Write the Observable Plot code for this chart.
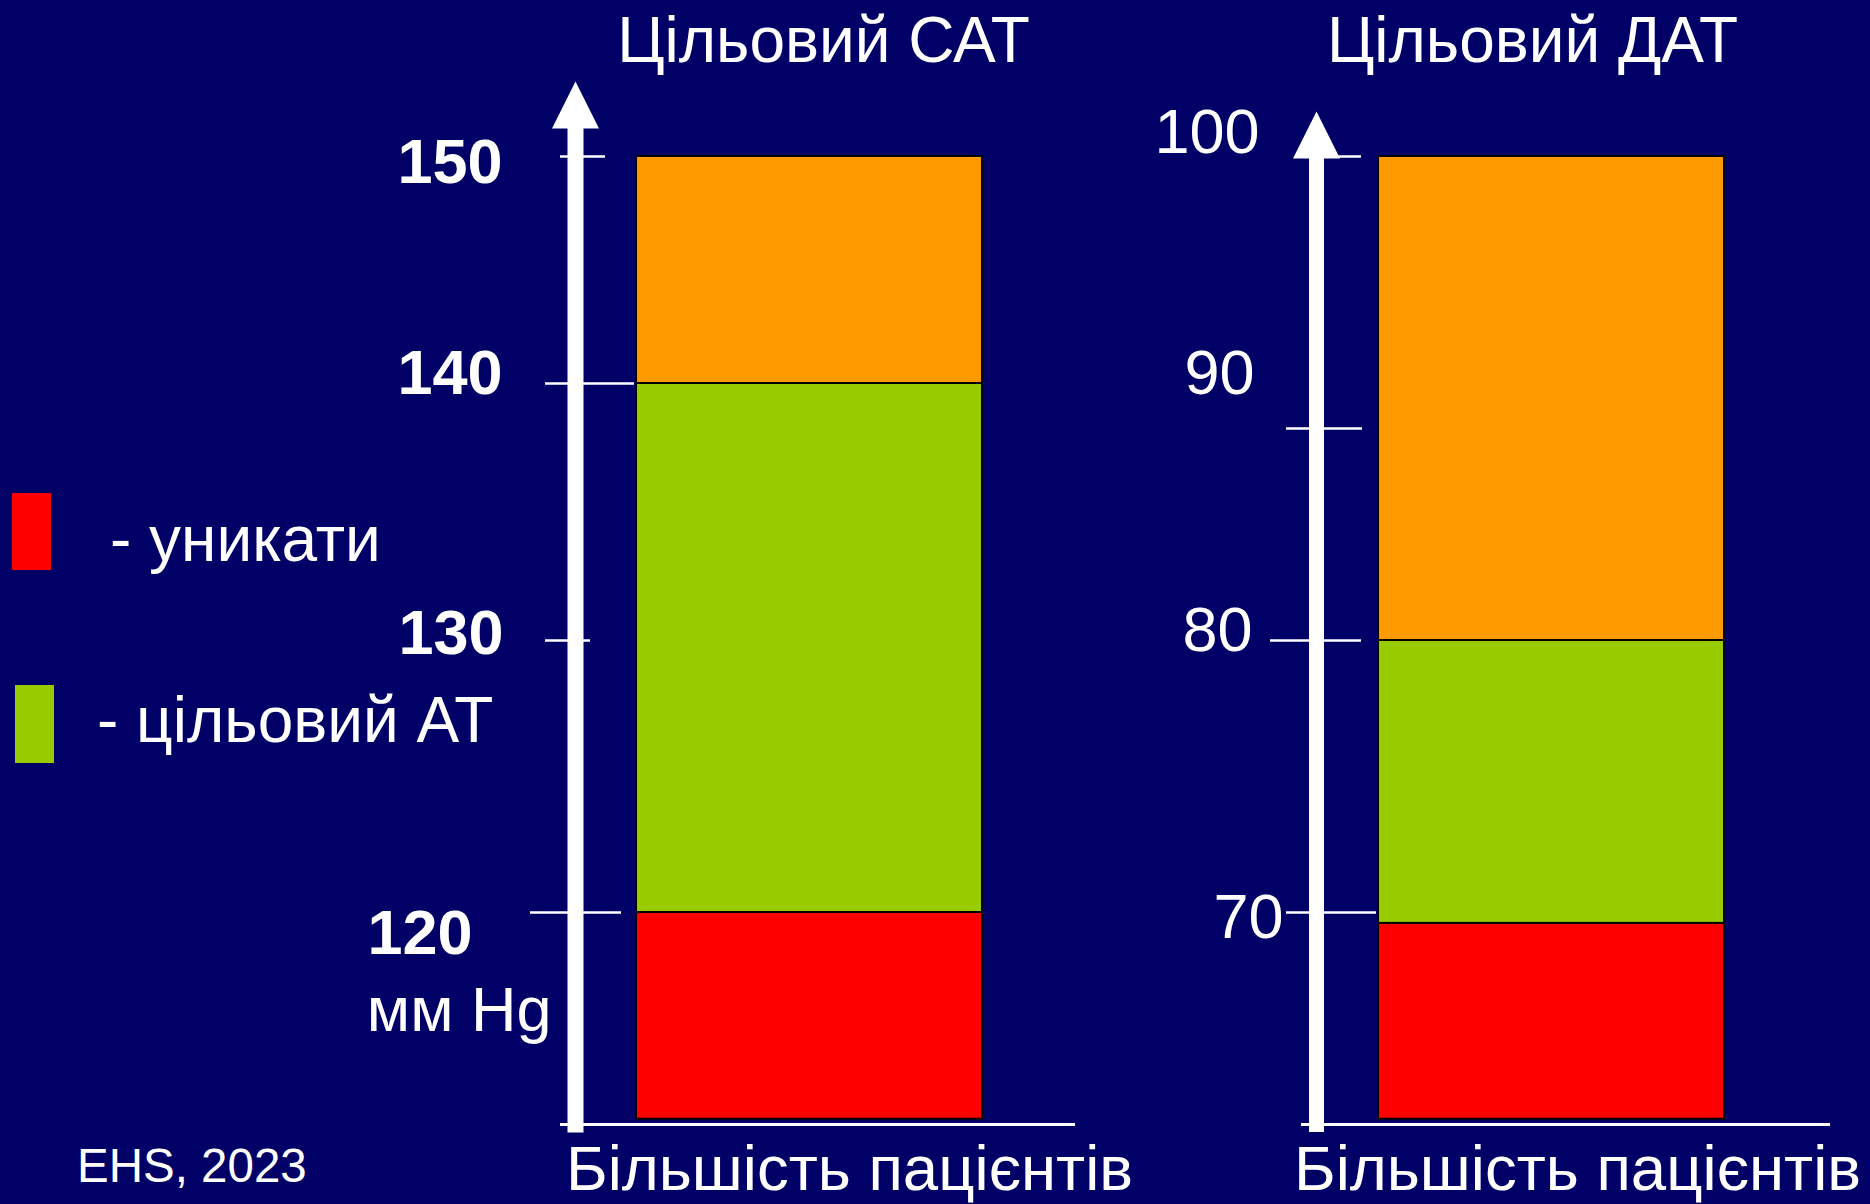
<!DOCTYPE html>
<html lang="uk">
<head>
<meta charset="utf-8">
<script src="https://cdn.jsdelivr.net/npm/d3@7"></script>
<script src="https://cdn.jsdelivr.net/npm/@observablehq/plot@0.6"></script>
<style>
  html, body { margin: 0; padding: 0; background: #000066; }
  #stage { position: relative; width: 1870px; height: 1204px; background: #000066; overflow: hidden;
           font-family: "Liberation Sans", Arial, sans-serif; color: #fff; }
  #stage svg { position: absolute; left: 0; top: 0; }
  .abs { position: absolute; white-space: nowrap; line-height: 1; }
</style>
</head>
<body>
<div id="stage"></div>
<script>
// ---------------- data ----------------
const category = "Більшість пацієнтів";
const zoneKeys = ["avoid", "target", "above"];
const zoneColors = ["#ff0000", "#99cc00", "#ff9900"];
const legendLabels = ["- уникати", "- цільовий АТ"];

const sbpTitle = "Цільовий САТ";
const dbpTitle = "Цільовий ДАТ";
const unitLabel = "мм Hg";
const sourceNote = "EHS, 2023";

// zone edges in mm Hg, from the bottom of the bar upward
const sbpEdges = [112.4, 120, 140, 150];
const dbpEdges = [62.4, 69.6, 80, 100];

const sbpTicks = [150, 140, 130, 120];
const sbpTickLabels = ["150", "140", "130", "120"];
const dbpTicks = [100, 90, 80, 70];
const dbpTickLabels = ["100", "90", "80", "70"];

// ---------------- layout / style ----------------
const W = 1870, H = 1204, FLOOR = 1124;
const FONT = "Liberation Sans, Arial, sans-serif";

const arrowHead = {
  draw(ctx, size) {
    const r = Math.sqrt(size / Math.PI);
    ctx.moveTo(0, -2 * r);
    ctx.lineTo(r, 0);
    ctx.lineTo(-r, 0);
    ctx.closePath();
  }
};

const panels = [
  {
    title: sbpTitle, edges: sbpEdges, ticks: sbpTicks, labels: sbpTickLabels, bold: true, unit: true,
    yDomain: [120, 130, 140, 150], yRange: [912, 640, 383, 156],
    axisX: 575, right: 1073, top: 128, shaft: 16, bandOuter: 0.2176, align: 0.404,
    tickExt: [[15, 30], [30, 59], [30, 15], [45, 46]],
    labelNudge: [[-73, 6.8], [-73, -9.2], [-72, -6.2], [-103, 21.8]],
    titleDx: -1, xLabelDx: 40
  },
  {
    title: dbpTitle, edges: dbpEdges, ticks: dbpTicks, labels: dbpTickLabels, bold: false, unit: false,
    yDomain: [70, 80, 90, 100], yRange: [912, 640, 428, 156],
    axisX: 1316, right: 1828, top: 158, shaft: 15, bandOuter: 0.2388, align: 0.372,
    tickExt: [[0, 45], [30, 46], [46, 45], [30, 60]],
    labelNudge: [[-57, -23.5], [-62, -54.2], [-64, -9.2], [-33, 5.8]],
    titleDx: -40, xLabelDx: 26
  }
];

function panel(p) {
  const segs = zoneKeys.map((z, i) => ({zone: z, cat: category, lo: p.edges[i], hi: p.edges[i + 1]}));
  const fw = p.right - p.axisX;
  const marks = [
    Plot.barY(segs, {x: "cat", y1: "lo", y2: "hi", fill: "zone", stroke: "#000", strokeWidth: 2}),
    Plot.frame({anchor: "bottom", stroke: "#fff", strokeWidth: 3, insetLeft: -14}),
    Plot.frame({anchor: "left", stroke: "#fff", strokeWidth: p.shaft}),
    Plot.dot([0], {frameAnchor: "top-left", symbol: arrowHead, r: 23.5, fill: "#fff", stroke: "none"}),
    ...p.ticks.map((t, i) => Plot.ruleY([t], {
      y: d => d, stroke: "#fff", strokeWidth: 2.5,
      insetLeft: -p.tickExt[i][0], insetRight: fw - p.tickExt[i][1]
    })),
    ...p.ticks.map((t, i) => Plot.text([p.labels[i]], {
      y: () => t, text: d => d, frameAnchor: "left", textAnchor: "end", lineAnchor: "middle",
      dx: p.labelNudge[i][0], dy: p.labelNudge[i][1],
      fontSize: 63, fontWeight: p.bold ? "bold" : "normal", fill: "#fff", fontFamily: FONT
    })),
    Plot.text([p.title], {
      text: d => d, frameAnchor: "top", lineAnchor: "middle", dx: p.titleDx, dy: 41.5 - p.top,
      fontSize: 64, fill: "#fff", fontFamily: FONT
    }),
    Plot.text([category], {
      x: d => d, text: d => d, frameAnchor: "bottom", lineAnchor: "middle", dx: p.xLabelDx, dy: 45,
      fontSize: 63.5, fill: "#fff", fontFamily: FONT
    })
  ];
  if (p.unit) {
    marks.push(Plot.text([unitLabel], {
      text: d => d, frameAnchor: "bottom-left", textAnchor: "end", lineAnchor: "middle",
      dx: -24, dy: 1010.8 - FLOOR, fontSize: 63, fill: "#fff", fontFamily: FONT
    }));
  }
  return Plot.plot({
    width: W, height: H,
    marginLeft: p.axisX, marginRight: W - p.right, marginTop: p.top, marginBottom: H - FLOOR,
    style: {background: "transparent", fontFamily: FONT, overflow: "visible", maxWidth: "none"},
    x: {type: "band", domain: [category], paddingInner: 0, paddingOuter: p.bandOuter, align: p.align, axis: null},
    y: {type: "linear", domain: p.yDomain, range: p.yRange, axis: null},
    color: {domain: zoneKeys, range: zoneColors},
    marks
  });
}

const stage = document.getElementById("stage");
panels.forEach(p => stage.appendChild(panel(p)));

// legend (HTML, beside the chart)
const legendBoxes = [
  {left: 12, top: 493, w: 39, h: 77},
  {left: 15, top: 685, w: 39, h: 78}
];
const legendText = [
  {left: 110, baseline: 561},
  {left: 97, baseline: 742}
];
legendLabels.forEach((lab, i) => {
  const b = document.createElement("div");
  b.className = "abs";
  Object.assign(b.style, {left: legendBoxes[i].left + "px", top: legendBoxes[i].top + "px",
    width: legendBoxes[i].w + "px", height: legendBoxes[i].h + "px", background: zoneColors[i]});
  stage.appendChild(b);
  const t = document.createElement("div");
  t.className = "abs";
  t.textContent = lab;
  Object.assign(t.style, {left: legendText[i].left + "px", top: (legendText[i].baseline - 0.8465 * 64) + "px",
    fontSize: "64px"});
  stage.appendChild(t);
});

const note = document.createElement("div");
note.className = "abs";
note.textContent = sourceNote;
Object.assign(note.style, {left: "77px", top: (1182 - 0.8465 * 47.5) + "px", fontSize: "47.5px"});
stage.appendChild(note);
</script>
</body>
</html>
